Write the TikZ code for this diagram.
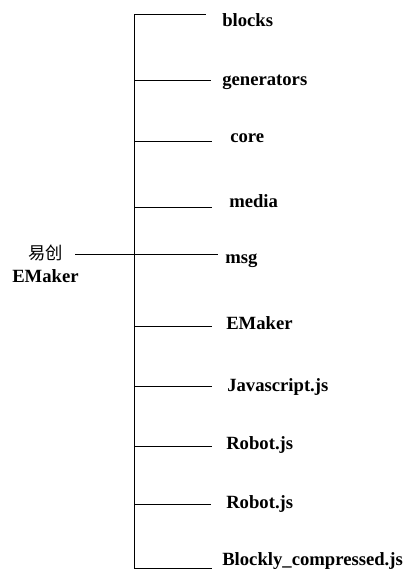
\documentclass[tikz,border=0pt]{standalone}
\usepackage{fontspec}
\setmainfont{Liberation Serif}
\newfontfamily\cjk{Noto Sans CJK SC}
\begin{document}
\begin{tikzpicture}[x=0.75pt,y=-0.75pt,
  conn/.style={draw=black,line width=0.75pt},
  lbl/.style={anchor=base west,inner sep=0pt,font=\bfseries\fontsize{14}{16}\selectfont}]
\useasboundingbox (0,0) rectangle (406,570);
% root
\node[anchor=center,inner sep=0pt,font=\cjk\fontsize{13}{15}\selectfont] (cn) at (45.5,253) {易创};
\node[lbl] (root) at (12,282) {EMaker};
% labels
\node[lbl] (l1) at (222,27) {blocks};
\node[lbl] (l2) at (222,86) {generators};
\node[lbl] (l3) at (230,143) {core};
\node[lbl] (l4) at (229,207) {media};
\node[lbl] (l5) at (225,263) {msg};
\node[lbl] (l6) at (226,329) {EMaker};
\node[lbl] (l7) at (227,391) {Javascript.js};
\node[lbl] (l8) at (226,449) {Robot.js};
\node[lbl] (l9) at (226,508) {Robot.js};
\node[lbl] (l10) at (222,565) {Blockly\_compressed.js};
% trunk and branch coordinates
\coordinate (s1) at (134,15);  \coordinate (e1) at (206,15);
\coordinate (s2) at (134,81);  \coordinate (e2) at (211,81);
\coordinate (s3) at (134,142); \coordinate (e3) at (212,142);
\coordinate (s4) at (134,207); \coordinate (e4) at (212,207);
\coordinate (m0) at (75,254);  \coordinate (e5) at (218,254);
\coordinate (s6) at (134,326); \coordinate (e6) at (212,326);
\coordinate (s7) at (134,386); \coordinate (e7) at (212,386);
\coordinate (s8) at (134,446); \coordinate (e8) at (212,446);
\coordinate (s9) at (134,504); \coordinate (e9) at (211,504);
\coordinate (s10) at (134,568); \coordinate (e10) at (212,568);
\draw[conn] (s1) -- (s10);
\draw[conn] (s1) -- (e1);
\draw[conn] (s2) -- (e2);
\draw[conn] (s3) -- (e3);
\draw[conn] (s4) -- (e4);
\draw[conn] (m0) -- (e5);
\draw[conn] (s6) -- (e6);
\draw[conn] (s7) -- (e7);
\draw[conn] (s8) -- (e8);
\draw[conn] (s9) -- (e9);
\draw[conn] (s10) -- (e10);
\end{tikzpicture}
\end{document}
